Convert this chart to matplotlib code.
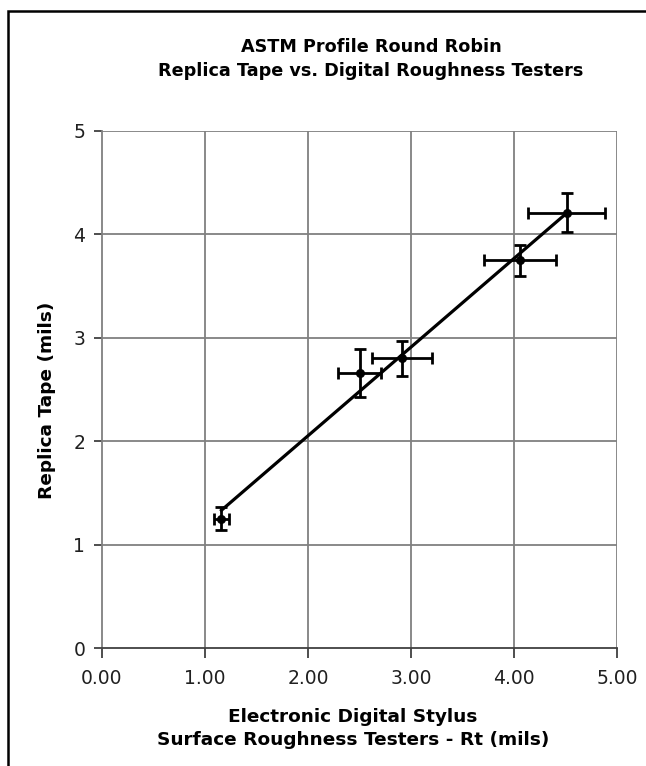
#!/usr/bin/env python3
"""
ASTM profile round robin: replica tape vs. digital roughness testers
"""

import numpy as np
import matplotlib
matplotlib.use('Agg')
import matplotlib.pyplot as plt
from matplotlib.patches import Rectangle

# Stylus Rt (x) vs replica tape (y), both in mils, with spreads
stylus_rt = [1.16, 2.50, 2.91, 4.06, 4.51]
replica_tape = [1.25, 2.66, 2.80, 3.75, 4.21]
stylus_err = [0.07, 0.21, 0.29, 0.35, 0.37]
replica_err = [0.11, 0.23, 0.17, 0.15, 0.19]

x_ticks = [0, 1, 2, 3, 4, 5]
y_ticks = [0, 1, 2, 3, 4, 5]

title_text = 'ASTM Profile Round Robin\nReplica Tape vs. Digital Roughness Testers'
xlabel_text = 'Electronic Digital Stylus\nSurface Roughness Testers - Rt (mils)'
ylabel_text = 'Replica Tape (mils)'

plt.rcParams['font.family'] = ['DejaVu Sans']

W, H = 646, 766
fig = plt.figure(figsize=(W / 100, H / 100), dpi=100)
ax = fig.add_axes([102 / W, 1 - 648 / H, 515 / W, 517 / H])

# Outer chart border (right/bottom run off the image)
fig.patches.append(Rectangle((8 / W, -0.05), 1.1, 1 - 11 / H + 0.05,
                             transform=fig.transFigure, fill=False,
                             edgecolor='black', linewidth=1.8))

# Gridlines
for xv in x_ticks[1:]:
    ax.axvline(xv, color='#808080', linewidth=1.3, zorder=1)
for yv in y_ticks[1:]:
    ax.axhline(yv, color='#808080', linewidth=1.3, zorder=1)

# Linear trendline across the data range
slope, intercept = np.polyfit(stylus_rt, replica_tape, 1)
xs = np.array([min(stylus_rt), max(stylus_rt)])
ax.plot(xs, slope * xs + intercept, color='black', linewidth=2.3, zorder=3)

ax.errorbar(stylus_rt, replica_tape, xerr=stylus_err, yerr=replica_err,
            fmt='o', color='black', markersize=5.5, elinewidth=2.0,
            capsize=4, capthick=2.0, zorder=4)

ax.set_xlim(0, 5)
ax.set_ylim(0, 5)
ax.set_xticks(x_ticks)
ax.set_xticklabels([f'{v:.2f}' for v in x_ticks])
ax.set_yticks(y_ticks)
ax.set_yticklabels([str(v) for v in y_ticks])

for side in ['top', 'right']:
    ax.spines[side].set_visible(False)
ax.spines['left'].set_color('#808080')
ax.spines['left'].set_linewidth(1.3)
ax.spines['bottom'].set_color('#404040')
ax.spines['bottom'].set_linewidth(1.3)
ax.tick_params(axis='both', direction='out', width=1.3,
               color='#404040', labelsize=13.5, labelcolor='#202020')
ax.tick_params(axis='x', length=7, pad=8)
ax.tick_params(axis='y', length=6, pad=6)

fig.text(353 / W, 1 - 728.5 / H, xlabel_text, ha='center', va='center',
         fontsize=13.3, fontweight='bold', linespacing=1.3)
fig.text(47 / W, 1 - 400 / H, ylabel_text, ha='center', va='center',
         rotation=90, fontsize=13.3, fontweight='bold')
fig.text(371 / W, 1 - 59 / H, title_text, ha='center', va='center',
         fontsize=12.7, fontweight='bold', linespacing=1.5)

fig.savefig('out.png', dpi=100)
